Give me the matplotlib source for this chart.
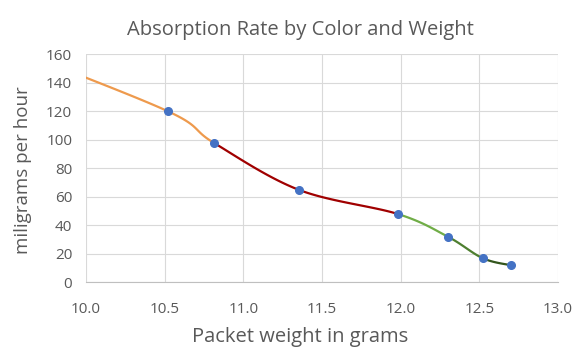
import numpy as np
import matplotlib
matplotlib.use("Agg")
import matplotlib.pyplot as plt

# data (first point lies left of the axis, clipped)
weights = [9.5, 10.52, 10.81, 11.35, 11.98, 12.30, 12.52, 12.70]
rates = [165, 120, 98, 65, 48, 32, 17, 12]
# colour of the line leaving each point
seg_colors = ["#EE9A4D", "#EE9A4D", "#A00000", "#A00000",
              "#70AD47", "#4E7F30", "#33561D"]
x_ticks = [10.0, 10.5, 11.0, 11.5, 12.0, 12.5, 13.0]
y_ticks = [0, 20, 40, 60, 80, 100, 120, 140, 160]

plt.rcParams['font.family'] = ['Open Sans', 'DejaVu Sans']

W, H = 582, 357
fig = plt.figure(figsize=(W / 100, H / 100), dpi=100)
ax = fig.add_axes([0.148, 0.209, 0.811, 0.639])


def bezier_segment(p0, p1, p2, p3, n=40):
    # smooth line like a spreadsheet: catmull-rom turned into bezier
    c1 = p1 + (p2 - p0) / 6.0
    c2 = p2 - (p3 - p1) / 6.0
    t = np.linspace(0, 1, n)[:, None]
    return ((1 - t) ** 3 * p1 + 3 * (1 - t) ** 2 * t * c1
            + 3 * (1 - t) * t ** 2 * c2 + t ** 3 * p2)


pts = np.column_stack([weights, rates]).astype(float)
for i in range(len(pts) - 1):
    p0 = pts[max(i - 1, 0)]
    p3 = pts[min(i + 2, len(pts) - 1)]
    seg = bezier_segment(p0, pts[i], pts[i + 1], p3)
    ax.plot(seg[:, 0], seg[:, 1], color=seg_colors[i], lw=1.6,
            solid_capstyle='round', zorder=2)

ax.plot(weights[1:], rates[1:], 'o', color="#4472C4", ms=5.5, zorder=3)

ax.set_xlim(10, 13)
ax.set_ylim(0, 160)
ax.set_xticks(x_ticks)
ax.set_xticklabels([f"{v:.1f}" for v in x_ticks])
ax.set_yticks(y_ticks)
ax.grid(True, color="#D9D9D9", lw=0.8)
ax.set_axisbelow(True)
for s in ["top", "right", "left"]:
    ax.spines[s].set_visible(False)
ax.spines["bottom"].set_color("#BFBFBF")
ax.tick_params(length=0, labelsize=11, colors="#595959")
ax.tick_params(axis='y', pad=10)
ax.tick_params(axis='x', pad=14)

# title and axis titles placed like the spreadsheet chart
fig.text(300 / W, 1 - 30 / H, "Absorption Rate by Color and Weight",
         fontsize=14.5, color="#595959", ha='center', va='center')
fig.text(300 / W, 1 - 337 / H, "Packet weight in grams",
         fontsize=14.5, color="#595959", ha='center', va='center')
fig.text(23 / W, 1 - 170 / H, "miligrams per hour", rotation=90,
         fontsize=13.5, color="#595959", ha='center', va='center')

fig.savefig("out.png", dpi=100)
